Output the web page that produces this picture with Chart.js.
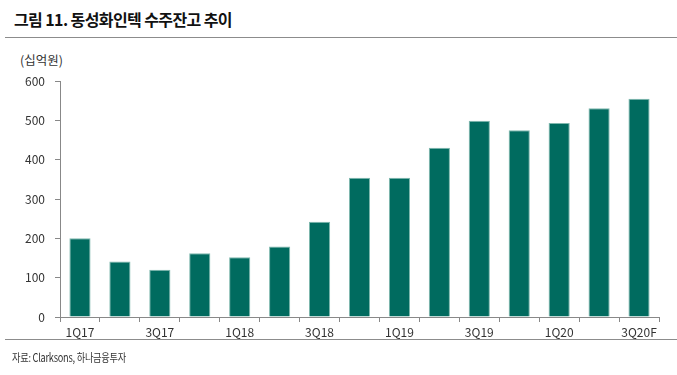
<!DOCTYPE html>
<html><head><meta charset="utf-8">
<script src="https://cdn.jsdelivr.net/npm/chart.js@4/dist/chart.umd.min.js"></script>
<style>
html,body{margin:0;padding:0;background:#fff;}
#wrap{position:relative;width:677px;height:375px;overflow:hidden;font-family:"Noto Sans CJK KR","Noto Sans",sans-serif;}
#title{position:absolute;left:14px;top:7px;font-size:16px;font-weight:bold;color:#111;letter-spacing:-0.6px;}
#line1{position:absolute;left:5px;right:0;top:37px;height:1px;background:#8c8c8c;}
#unit{position:absolute;left:20px;top:50px;font-size:12.5px;color:#333;}
#line2{position:absolute;left:5px;right:0;top:339px;height:1px;background:#8c8c8c;}
#src{position:absolute;left:12px;top:349px;font-size:11.5px;color:#333;letter-spacing:-0.3px;transform:scaleX(0.8);transform-origin:left top;}
canvas{position:absolute;left:0;top:0;}
</style></head>
<body><div id="wrap">
<div id="title">그림 11. 동성화인텍 수주잔고 추이</div>
<div id="line1"></div>
<div id="unit">(십억원)</div>
<canvas id="c" width="677" height="375"></canvas>
<div id="line2"></div>
<div id="src">자료: Clarksons, 하나금융투자</div>
</div>
<script>
const categories = ["1Q17","2Q17","3Q17","4Q17","1Q18","2Q18","3Q18","4Q18","1Q19","2Q19","3Q19","4Q19","1Q20","2Q20","3Q20F"];
const backlog = [200,141,120,162,152,179,242,354,354,430,499,475,493,531,555];
const yTicks = [0,100,200,300,400,500,600];

const font = {family:'"Noto Sans CJK KR","Noto Sans",sans-serif', size:12};
new Chart(document.getElementById('c'), {
  type:'bar',
  data:{labels:categories, datasets:[{data:backlog, backgroundColor:'#006b5f', borderColor:'#7fb8ae', borderWidth:{left:1,right:1,top:1,bottom:0}, barPercentage:0.53, categoryPercentage:1}]},
  options:{
    responsive:false, animation:false, devicePixelRatio:1,
    layout:{padding:{top:81,right:18,left:0,bottom:0}},
    plugins:{legend:{display:false},tooltip:{enabled:false}},
    scales:{
      x:{
        grid:{display:true, drawOnChartArea:false, drawTicks:true, tickLength:5, offset:true, color:'#888'},
        border:{display:true,color:'#888',width:1},
        ticks:{autoSkip:false, maxRotation:0, color:'#333', font:font, padding:3,
          callback:function(v,i){return i%2===0?categories[i]:'';}},
        afterFit:function(s){s.height=375-317;}
      },
      y:{
        min:0,max:600,
        afterBuildTicks:function(s){s.ticks=yTicks.map(v=>({value:v}));},
        grid:{display:true, drawOnChartArea:false, drawTicks:true, tickLength:5, color:'#888'},
        border:{display:true,color:'#888',width:1},
        ticks:{color:'#333', font:font, padding:10},
        afterFit:function(s){s.width=60;}
      }
    }
  }
});
</script>
</body></html>
